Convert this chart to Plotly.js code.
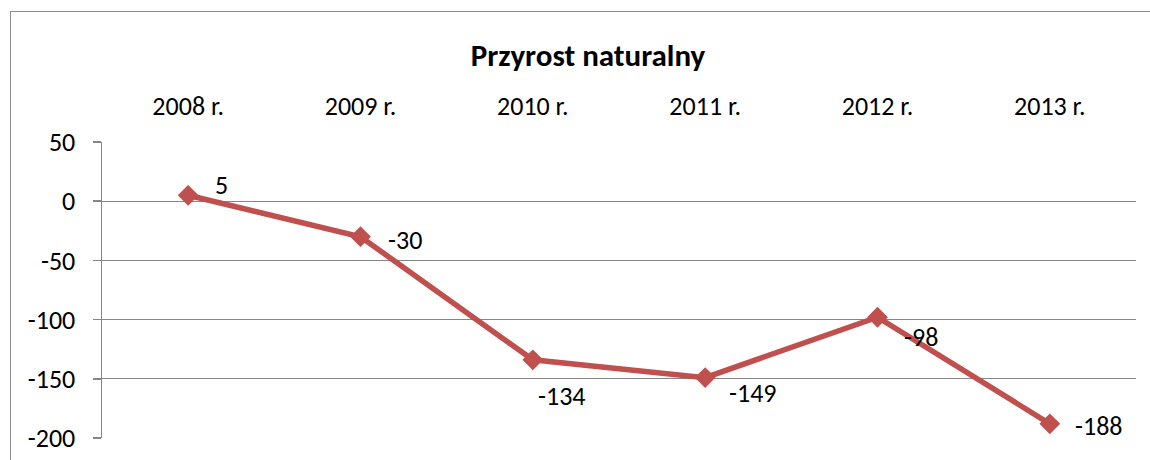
<!DOCTYPE html>
<html>
<head>
<meta charset="utf-8">
<script src="https://cdn.plot.ly/plotly-3.0.1.min.js"></script>
<style>
  html, body { margin: 0; padding: 0; background: #fff; }
  #wrap { position: relative; width: 1150px; height: 460px; overflow: hidden; }
  #chart { width: 1150px; height: 460px; }
  #frame { position: absolute; left: 10px; top: 11px; width: 1200px; height: 500px;
           border: 1.5px solid #8c8c8c; pointer-events: none; box-sizing: border-box; }
</style>
</head>
<body>
<div id="wrap">
  <div id="chart"></div>
  <div id="frame"></div>
</div>
<script>
const categories = ["2008 r.", "2009 r.", "2010 r.", "2011 r.", "2012 r.", "2013 r."];
const values = [5, -30, -134, -149, -98, -188];
const yTicks = [50, 0, -50, -100, -150, -200];
const yMin = -200, yMax = 50;

// label offsets in screen pixels (dx right, dy down)
const labelOffsets = [[33, -10], [44, 3], [29, 36], [48, 15], [43, 20], [49, 2]];

const FONT = "Carlito, Lato, 'Liberation Sans', sans-serif";
const GRAY = "#868686";
const idx = categories.map((c, i) => i);
const xRange = [-0.5, categories.length - 0.5];
const zeroPos = (0 - yMin) / (yMax - yMin);
const majorVals = idx.concat([categories.length - 0.5]);
const boundaryVals = idx.slice(0, -1).map(i => i + 0.5).concat([-0.5]);

const trace = {
  x: idx,
  y: values,
  type: "scatter",
  mode: "lines+markers",
  line: { color: "#C0504D", width: 5.5 },
  marker: { symbol: "diamond", size: 16, color: "#C0504D" },
  cliponaxis: false,
  hoverinfo: "skip",
  xaxis: "x",
  yaxis: "y"
};

const annotations = values.map((v, i) => ({
  x: i, y: v, xref: "x", yref: "y",
  text: String(v), showarrow: false,
  xshift: labelOffsets[i][0], yshift: -labelOffsets[i][1],
  font: { family: FONT, size: 26, color: "#000" }
}));

const layout = {
  width: 1150, height: 460,
  margin: { l: 102, r: 14, t: 142, b: 22 },
  paper_bgcolor: "rgba(0,0,0,0)",
  plot_bgcolor: "#fff",
  showlegend: false,
  title: {
    text: "<b>Przyrost naturalny</b>",
    xref: "container", x: 588 / 1150, xanchor: "center",
    yref: "container", y: 1 - 55 / 460, yanchor: "middle",
    font: { family: FONT, size: 31, color: "#000" }
  },
  xaxis: {
    range: xRange, side: "top", anchor: "y",
    tickmode: "array", tickvals: idx, ticktext: categories,
    ticks: "outside", ticklen: 16, tickcolor: "rgba(0,0,0,0)",
    showline: false, showgrid: false, zeroline: false,
    tickfont: { family: FONT, size: 26, color: "#000" },
    fixedrange: true
  },
  xaxis2: {
    range: xRange, overlaying: "x", anchor: "free", position: zeroPos, side: "bottom",
    tickmode: "array", tickvals: majorVals, showticklabels: false,
    ticks: "outside", ticklen: 7, tickwidth: 1.5, tickcolor: GRAY,
    minor: { tickmode: "array", tickvals: boundaryVals, ticks: "outside", ticklen: 9, tickwidth: 1.5, tickcolor: GRAY },
    showline: true, linecolor: GRAY, linewidth: 1.5,
    showgrid: false, zeroline: false, fixedrange: true
  },
  xaxis3: {
    range: xRange, overlaying: "x", anchor: "free", position: zeroPos, side: "bottom",
    tickmode: "array", tickvals: majorVals, showticklabels: false,
    ticks: "inside", ticklen: 6, tickwidth: 1.5, tickcolor: GRAY,
    showline: false, showgrid: false, zeroline: false, fixedrange: true
  },
  yaxis: {
    range: [yMin, yMax],
    tickmode: "array", tickvals: yTicks, ticktext: yTicks.map(String),
    ticks: "outside", ticklen: 8, tickwidth: 1.5, tickcolor: GRAY,
    showline: true, linecolor: GRAY, linewidth: 1.5,
    showgrid: true, gridcolor: GRAY, gridwidth: 1.3,
    zeroline: false,
    ticklabelstandoff: 12,
    tickfont: { family: FONT, size: 26, color: "#000" },
    fixedrange: true
  },
  annotations: annotations
};

Plotly.newPlot("chart", [trace], layout, { displayModeBar: false, staticPlot: true });
</script>
</body>
</html>
